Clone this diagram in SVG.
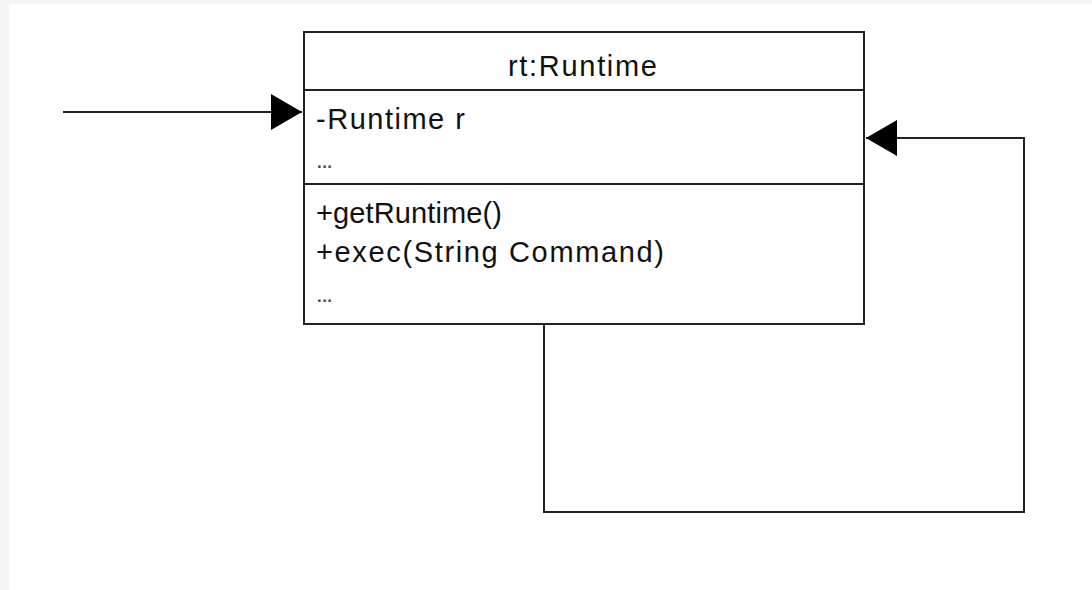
<svg xmlns="http://www.w3.org/2000/svg" width="1092" height="590" viewBox="0 0 1092 590">
  <style>
    .box { fill: #ffffff; stroke: #222222; stroke-width: 2; }
    .div { stroke: #222222; stroke-width: 2; }
    .edge { fill: none; stroke: #222222; stroke-width: 2; }
    .t { font-family: "Liberation Sans", Arial, Helvetica, sans-serif; font-size: 29px; fill: #111111; }
    .dots { font-family: "Liberation Sans", Arial, Helvetica, sans-serif; font-size: 24px; fill: #444444; }
  </style>
  <defs>
    <marker id="block" markerUnits="userSpaceOnUse" markerWidth="32" markerHeight="38" refX="31" refY="18" orient="auto" viewBox="0 0 32 38">
      <path d="M0,0 L31,18 L0,36 Z" fill="#000000"/>
    </marker>
  </defs>
  <rect x="0" y="0" width="1092" height="590" fill="#f3f5f7"/>
  <rect x="9" y="4" width="1083" height="586" fill="#ffffff"/>

  <g id="connectors">
    <path class="edge" d="M63,112 L302,112" marker-end="url(#block)"/>
    <path class="edge" d="M544,325 L544,512 L1024,512 L1024,138 L866,138" marker-end="url(#block)"/>
  </g>

  <g id="node-runtime">
    <rect class="box" x="304" y="32" width="560" height="292"/>
    <line class="div" x1="304" y1="90" x2="864" y2="90"/>
    <line class="div" x1="304" y1="184" x2="864" y2="184"/>
    <text class="t" x="582.5" y="76" text-anchor="middle" textLength="149" lengthAdjust="spacing">rt:Runtime</text>
    <text class="t" x="316" y="129" textLength="149" lengthAdjust="spacing">-Runtime r</text>
    <text class="dots" x="316" y="168" textLength="17" lengthAdjust="spacing">...</text>
    <text class="t" x="316" y="223" textLength="186" lengthAdjust="spacing">+getRuntime()</text>
    <text class="t" x="316" y="262" textLength="348" lengthAdjust="spacing">+exec(String Command)</text>
    <text class="dots" x="316" y="302" textLength="17" lengthAdjust="spacing">...</text>
  </g>
</svg>
